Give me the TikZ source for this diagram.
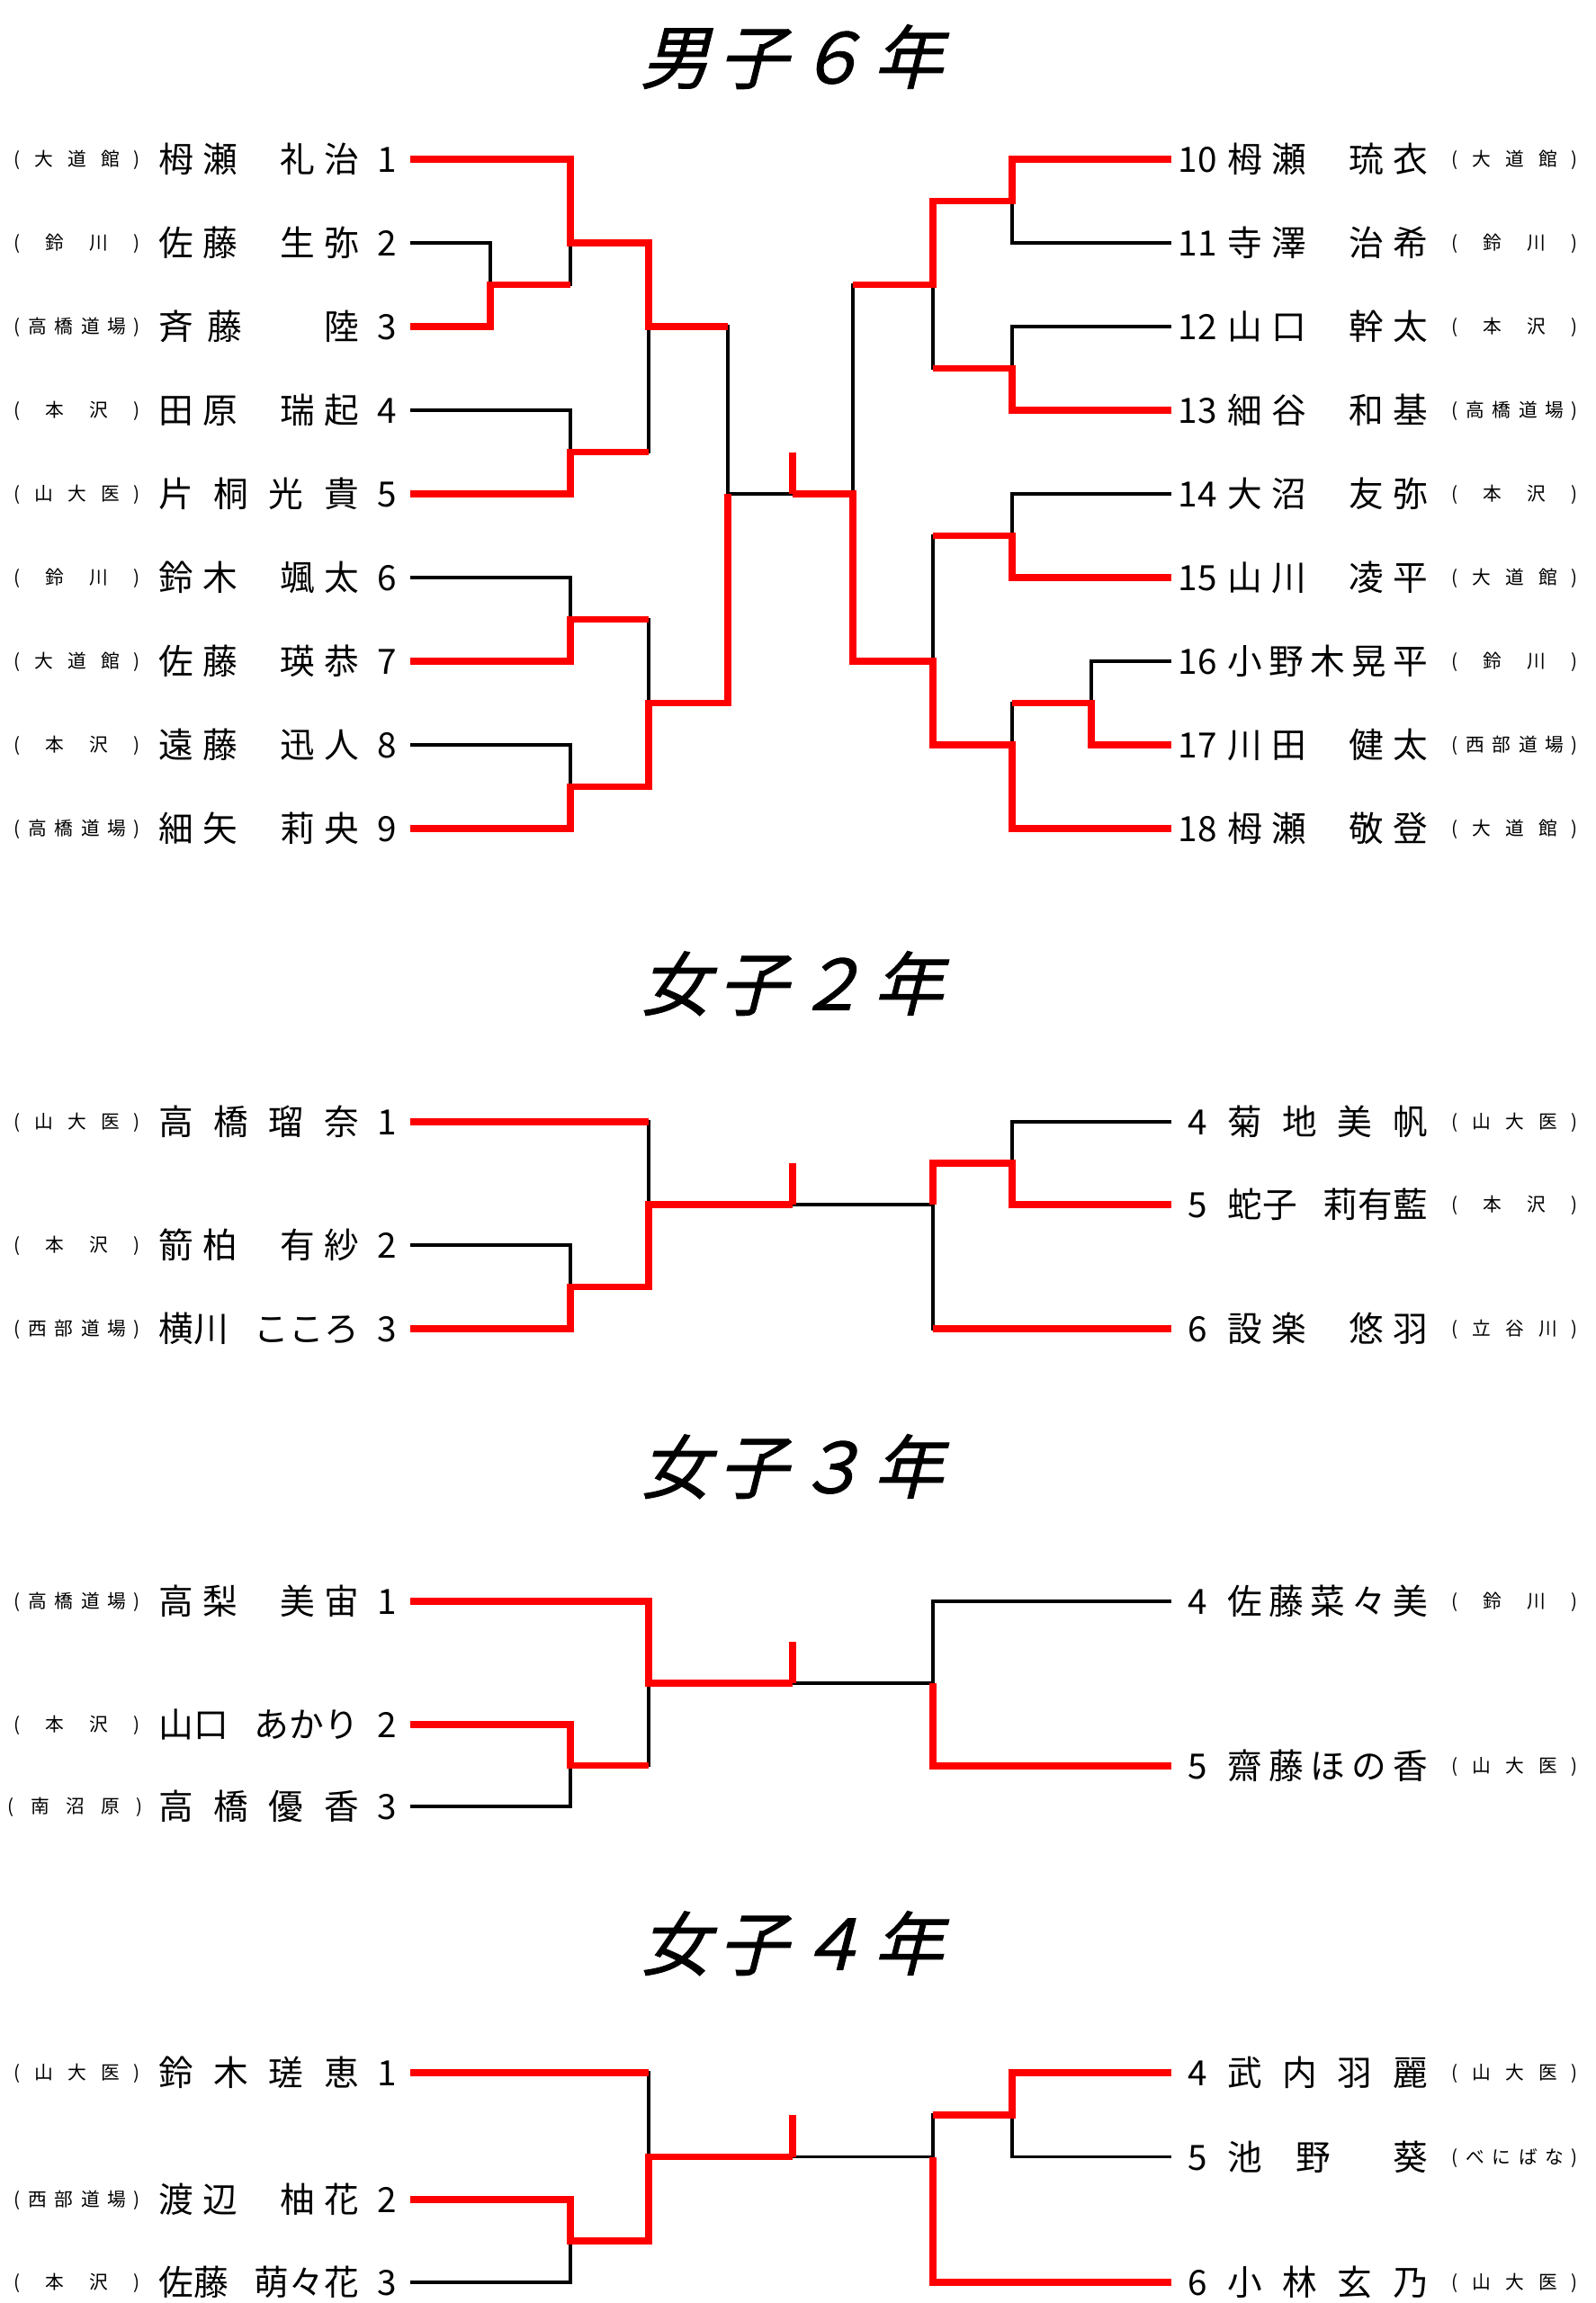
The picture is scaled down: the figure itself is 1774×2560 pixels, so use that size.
\documentclass[tikz,border=0pt]{standalone}
\usepackage{fontspec}
\setmainfont{Noto Sans CJK JP}
\newfontfamily\ttlfont[FakeSlant=0.25,FakeBold=1.2]{Noto Sans CJK JP}
\usepackage{tikz}
\usetikzlibrary{positioning}
\usepackage{xcolor}
\definecolor{wred}{RGB}{255,0,0}
\tikzstyle{win} = [line width=2.1pt,color=wred]
\tikzstyle{lose} = [line width=1pt,color=black]
\tikzstyle{titletxt} = [inner sep=0pt,font=\ttlfont\fontsize{22}{22}\selectfont,text height=19.4pt,text depth=2.6pt]
\tikzstyle{nametxt} = [anchor=west,inner sep=0pt,font=\fontsize{11}{11}\selectfont,text height=9.7pt,text depth=1.3pt]
\tikzstyle{numL} = [anchor=east,inner sep=0pt,font=\fontsize{11}{11}\selectfont,text height=9.7pt,text depth=1.3pt]
\tikzstyle{numR} = [anchor=center,inner sep=0pt,font=\fontsize{11}{11}\selectfont,text height=9.7pt,text depth=1.3pt]
\tikzstyle{clubtxt} = [anchor=west,inner sep=0pt,font=\fontsize{5.9}{6}\selectfont,text height=5.2pt,text depth=0.7pt]
\newcommand{\tgap}{\hspace{0.09cm}}
\newcommand{\pgap}{\hspace{0.1cm}}
\newcommand{\pname}[1]{\makebox[2.22cm][s]{#1}}
\newcommand{\npair}[4]{\pname{#1\pgap #2\hfill #3\pgap #4}}
\newcommand{\neven}[4]{\pname{#1\hfill #2\hfill #3\hfill #4}}
\newcommand{\nfive}[5]{\pname{#1\hfill #2\hfill #3\hfill #4\hfill #5}}
\newcommand{\ctwo}[2]{\makebox[1.4cm][s]{(\hfill #1\hfill #2\hfill )}}
\newcommand{\cthree}[3]{\makebox[1.4cm][s]{(\hfill #1\hfill #2\hfill #3\hfill )}}
\newcommand{\cfour}[4]{\makebox[1.4cm][s]{(\hfill #1\hfill #2\hfill #3\hfill #4\hfill )}}

\begin{document}
\begin{tikzpicture}[x=0.01cm, y=-0.01cm]
    \useasboundingbox (0,0) rectangle (1774,2560);

    % Titles
    \node (t6) [titletxt] at (880,63) {男\tgap 子\tgap ６\tgap 年};
    \node (t2) [titletxt] at (880,1093) {女\tgap 子\tgap ２\tgap 年};
    \node (t3) [titletxt] at (880,1630) {女\tgap 子\tgap ３\tgap 年};
    \node (t4) [titletxt] at (880,2160) {女\tgap 子\tgap ４\tgap 年};

    % Boys 6 - left entries
    \node (r1c) [clubtxt] at (15,177) {\cthree{大}{道}{館}};
    \node (r1n) [nametxt] at (176,177) {\npair{栂}{瀬}{礼}{治}};
    \node (r1k) [numL] at (442,177) {1};
    \node (r2c) [clubtxt] at (15,270) {\ctwo{鈴}{川}};
    \node (r2n) [nametxt] at (176,270) {\npair{佐}{藤}{生}{弥}};
    \node (r2k) [numL] at (442,270) {2};
    \node (r3c) [clubtxt] at (15,363) {\cfour{高}{橋}{道}{場}};
    \node (r3n) [nametxt] at (176,363) {\pname{斉\hspace{0.15cm}藤\hfill 陸}};
    \node (r3k) [numL] at (442,363) {3};
    \node (r4c) [clubtxt] at (15,456) {\ctwo{本}{沢}};
    \node (r4n) [nametxt] at (176,456) {\npair{田}{原}{瑞}{起}};
    \node (r4k) [numL] at (442,456) {4};
    \node (r5c) [clubtxt] at (15,549) {\cthree{山}{大}{医}};
    \node (r5n) [nametxt] at (176,549) {\neven{片}{桐}{光}{貴}};
    \node (r5k) [numL] at (442,549) {5};
    \node (r6c) [clubtxt] at (15,642) {\ctwo{鈴}{川}};
    \node (r6n) [nametxt] at (176,642) {\npair{鈴}{木}{颯}{太}};
    \node (r6k) [numL] at (442,642) {6};
    \node (r7c) [clubtxt] at (15,735) {\cthree{大}{道}{館}};
    \node (r7n) [nametxt] at (176,735) {\npair{佐}{藤}{瑛}{恭}};
    \node (r7k) [numL] at (442,735) {7};
    \node (r8c) [clubtxt] at (15,828) {\ctwo{本}{沢}};
    \node (r8n) [nametxt] at (176,828) {\npair{遠}{藤}{迅}{人}};
    \node (r8k) [numL] at (442,828) {8};
    \node (r9c) [clubtxt] at (15,921) {\cfour{高}{橋}{道}{場}};
    \node (r9n) [nametxt] at (176,921) {\npair{細}{矢}{莉}{央}};
    \node (r9k) [numL] at (442,921) {9};

    % Boys 6 - right entries
    \node (r10k) [numR] at (1331,177) {10};
    \node (r10n) [nametxt] at (1364,177) {\npair{栂}{瀬}{琉}{衣}};
    \node (r10c) [clubtxt] at (1613,177) {\cthree{大}{道}{館}};
    \node (r11k) [numR] at (1331,270) {11};
    \node (r11n) [nametxt] at (1364,270) {\npair{寺}{澤}{治}{希}};
    \node (r11c) [clubtxt] at (1613,270) {\ctwo{鈴}{川}};
    \node (r12k) [numR] at (1331,363) {12};
    \node (r12n) [nametxt] at (1364,363) {\npair{山}{口}{幹}{太}};
    \node (r12c) [clubtxt] at (1613,363) {\ctwo{本}{沢}};
    \node (r13k) [numR] at (1331,456) {13};
    \node (r13n) [nametxt] at (1364,456) {\npair{細}{谷}{和}{基}};
    \node (r13c) [clubtxt] at (1613,456) {\cfour{高}{橋}{道}{場}};
    \node (r14k) [numR] at (1331,549) {14};
    \node (r14n) [nametxt] at (1364,549) {\npair{大}{沼}{友}{弥}};
    \node (r14c) [clubtxt] at (1613,549) {\ctwo{本}{沢}};
    \node (r15k) [numR] at (1331,642) {15};
    \node (r15n) [nametxt] at (1364,642) {\npair{山}{川}{凌}{平}};
    \node (r15c) [clubtxt] at (1613,642) {\cthree{大}{道}{館}};
    \node (r16k) [numR] at (1331,735) {16};
    \node (r16n) [nametxt] at (1364,735) {\nfive{小}{野}{木}{晃}{平}};
    \node (r16c) [clubtxt] at (1613,735) {\ctwo{鈴}{川}};
    \node (r17k) [numR] at (1331,828) {17};
    \node (r17n) [nametxt] at (1364,828) {\npair{川}{田}{健}{太}};
    \node (r17c) [clubtxt] at (1613,828) {\cfour{西}{部}{道}{場}};
    \node (r18k) [numR] at (1331,921) {18};
    \node (r18n) [nametxt] at (1364,921) {\npair{栂}{瀬}{敬}{登}};
    \node (r18c) [clubtxt] at (1613,921) {\cthree{大}{道}{館}};

    % Boys 6 - line ends and match points
    \coordinate (r1) at (456,177);  \coordinate (r2) at (456,270);
    \coordinate (r3) at (456,363);  \coordinate (r4) at (456,456);
    \coordinate (r5) at (456,549);  \coordinate (r6) at (456,642);
    \coordinate (r7) at (456,735);  \coordinate (r8) at (456,828);
    \coordinate (r9) at (456,921);
    \coordinate (r10) at (1302,177); \coordinate (r11) at (1302,270);
    \coordinate (r12) at (1302,363); \coordinate (r13) at (1302,456);
    \coordinate (r14) at (1302,549); \coordinate (r15) at (1302,642);
    \coordinate (r16) at (1302,735); \coordinate (r17) at (1302,828);
    \coordinate (r18) at (1302,921);
    \coordinate (mL23) at (545,316.5); \coordinate (mL1) at (634,270);
    \coordinate (mL45) at (634,502.5); \coordinate (mL67) at (634,688.5);
    \coordinate (mL89) at (634,874.5); \coordinate (mLa) at (721,363);
    \coordinate (mLb) at (721,781.5);  \coordinate (mLc) at (809,549);
    \coordinate (mR10) at (1125,223.5); \coordinate (mR12) at (1125,409.5);
    \coordinate (mR14) at (1125,595.5); \coordinate (mR16) at (1213,781.5);
    \coordinate (mR18) at (1125,828);   \coordinate (mRa) at (1037,316.5);
    \coordinate (mRb) at (1037,735);    \coordinate (mRc) at (948,549);
    \coordinate (ctr6) at (881,549);    \coordinate (tk6) at (881,503);

    % Boys 6 - lost lines
    \draw[lose] (r2) -| (mL23);
    \draw[lose] (mL23) -| (mL1);
    \draw[lose] (r4) -| (mL45);
    \draw[lose] (r6) -| (mL67);
    \draw[lose] (r8) -| (mL89);
    \draw[lose] (mL45) -| (mLa);
    \draw[lose] (mL67) -| (mLb);
    \draw[lose] (mLa) -| (mLc) -- (ctr6);
    \draw[lose] (r11) -| (mR10);
    \draw[lose] (r12) -| (mR12) -| (mRa);
    \draw[lose] (r14) -| (mR14) -| (mRb);
    \draw[lose] (r16) -| (mR16) -| (mR18);
    \draw[lose] (mRa) -| (mRc);

    % Boys 6 - won lines
    \draw[win] (r1) -| (mL1) -| (mLa) -- (mLa -| mLc);
    \draw[win] (r3) -| (mL23) -- (mL23 -| mL1);
    \draw[win] (r5) -| (mL45) -- (mL45 -| mLa);
    \draw[win] (r7) -| (mL67) -- (mL67 -| mLb);
    \draw[win] (r9) -| (mL89) -| (mLb) -| (mLc);
    \draw[win] (r10) -| (mR10) -| (mRa) -- (mRa -| mRc);
    \draw[win] (r13) -| (mR12) -- (mR12 -| mRa);
    \draw[win] (r15) -| (mR14) -- (mR14 -| mRb);
    \draw[win] (r17) -| (mR16) -- (mR16 -| mR18);
    \draw[win] (r18) -| (mR18) -| (mRb) -| (mRc) -- (ctr6);
    \draw[win] (tk6) -- (ctr6);

    % Girls 2 - entries
    \node (s1c) [clubtxt] at (15,1247) {\cthree{山}{大}{医}};
    \node (s1n) [nametxt] at (176,1247) {\neven{高}{橋}{瑠}{奈}};
    \node (s1k) [numL] at (442,1247) {1};
    \node (s2c) [clubtxt] at (15,1384) {\ctwo{本}{沢}};
    \node (s2n) [nametxt] at (176,1384) {\npair{箭}{柏}{有}{紗}};
    \node (s2k) [numL] at (442,1384) {2};
    \node (s3c) [clubtxt] at (15,1477) {\cfour{西}{部}{道}{場}};
    \node (s3n) [nametxt] at (176,1477) {\pname{横川\hfill こころ}};
    \node (s3k) [numL] at (442,1477) {3};
    \node (s4k) [numR] at (1331,1247) {4};
    \node (s4n) [nametxt] at (1364,1247) {\neven{菊}{地}{美}{帆}};
    \node (s4c) [clubtxt] at (1613,1247) {\cthree{山}{大}{医}};
    \node (s5k) [numR] at (1331,1339) {5};
    \node (s5n) [nametxt] at (1364,1339) {\pname{蛇子\hfill 莉有藍}};
    \node (s5c) [clubtxt] at (1613,1339) {\ctwo{本}{沢}};
    \node (s6k) [numR] at (1331,1477) {6};
    \node (s6n) [nametxt] at (1364,1477) {\npair{設}{楽}{悠}{羽}};
    \node (s6c) [clubtxt] at (1613,1477) {\cthree{立}{谷}{川}};

    % Girls 2 - lines
    \coordinate (s1) at (456,1247);  \coordinate (s2) at (456,1384);
    \coordinate (s3) at (456,1477);  \coordinate (s4) at (1302,1247);
    \coordinate (s5) at (1302,1339); \coordinate (s6) at (1302,1477);
    \coordinate (g2m23) at (634,1430.5); \coordinate (g2mL) at (721,1339);
    \coordinate (g2m45) at (1125,1293);  \coordinate (g2mR) at (1037,1339);
    \coordinate (ctr2) at (881,1339);    \coordinate (tk2) at (881,1293);
    \draw[lose] (s1) -| (g2mL);
    \draw[lose] (s2) -| (g2m23);
    \draw[lose] (s4) -| (g2m45);
    \draw[lose] (s6) -| (g2mR) -- (ctr2);
    \draw[win] (s1) -- (s1 -| g2mL);
    \draw[win] (s3) -| (g2m23) -| (g2mL) -- (ctr2);
    \draw[win] (tk2) -- (ctr2);
    \draw[win] (s5) -| (g2m45) -| (g2mR);
    \draw[win] (s6) -- (s6 -| g2mR);

    % Girls 3 - entries
    \node (u1c) [clubtxt] at (15,1780) {\cfour{高}{橋}{道}{場}};
    \node (u1n) [nametxt] at (176,1780) {\npair{高}{梨}{美}{宙}};
    \node (u1k) [numL] at (442,1780) {1};
    \node (u2c) [clubtxt] at (15,1917) {\ctwo{本}{沢}};
    \node (u2n) [nametxt] at (176,1917) {\pname{山口\hfill あかり}};
    \node (u2k) [numL] at (442,1917) {2};
    \node (u3c) [clubtxt] at (8,2008) {\makebox[1.5cm][s]{(\hfill 南\hfill 沼\hfill 原\hfill )}};
    \node (u3n) [nametxt] at (176,2008) {\neven{高}{橋}{優}{香}};
    \node (u3k) [numL] at (442,2008) {3};
    \node (u4k) [numR] at (1331,1780) {4};
    \node (u4n) [nametxt] at (1364,1780) {\nfive{佐}{藤}{菜}{々}{美}};
    \node (u4c) [clubtxt] at (1613,1780) {\ctwo{鈴}{川}};
    \node (u5k) [numR] at (1331,1963) {5};
    \node (u5n) [nametxt] at (1364,1963) {\nfive{齋}{藤}{ほ}{の}{香}};
    \node (u5c) [clubtxt] at (1613,1963) {\cthree{山}{大}{医}};

    % Girls 3 - lines
    \coordinate (u1) at (456,1780);  \coordinate (u2) at (456,1917);
    \coordinate (u3) at (456,2008);  \coordinate (u4) at (1302,1780);
    \coordinate (u5) at (1302,1963);
    \coordinate (g3m23) at (634,1962.5); \coordinate (g3mL) at (721,1871);
    \coordinate (g3mR) at (1037,1871);
    \coordinate (ctr3) at (881,1871);    \coordinate (tk3) at (881,1825);
    \draw[lose] (u3) -| (g3m23) -| (g3mL);
    \draw[lose] (u4) -| (g3mR) -- (ctr3);
    \draw[win] (u1) -| (g3mL) -- (ctr3);
    \draw[win] (u2) -| (g3m23) -- (g3m23 -| g3mL);
    \draw[win] (tk3) -- (ctr3);
    \draw[win] (u5) -| (g3mR);

    % Girls 4 - entries
    \node (v1c) [clubtxt] at (15,2304) {\cthree{山}{大}{医}};
    \node (v1n) [nametxt] at (176,2304) {\neven{鈴}{木}{瑳}{恵}};
    \node (v1k) [numL] at (442,2304) {1};
    \node (v2c) [clubtxt] at (15,2445) {\cfour{西}{部}{道}{場}};
    \node (v2n) [nametxt] at (176,2445) {\npair{渡}{辺}{柚}{花}};
    \node (v2k) [numL] at (442,2445) {2};
    \node (v3c) [clubtxt] at (15,2537) {\ctwo{本}{沢}};
    \node (v3n) [nametxt] at (176,2537) {\pname{佐藤\hfill 萌々花}};
    \node (v3k) [numL] at (442,2537) {3};
    \node (v4k) [numR] at (1331,2304) {4};
    \node (v4n) [nametxt] at (1364,2304) {\neven{武}{内}{羽}{麗}};
    \node (v4c) [clubtxt] at (1613,2304) {\cthree{山}{大}{医}};
    \node (v5k) [numR] at (1331,2397.5) {5};
    \node (v5n) [nametxt] at (1364,2397.5) {\pname{池\hspace{0.37cm}野\hfill 葵}};
    \node (v5c) [clubtxt] at (1613,2397.5) {\cfour{べ}{に}{ば}{な}};
    \node (v6k) [numR] at (1331,2537) {6};
    \node (v6n) [nametxt] at (1364,2537) {\neven{小}{林}{玄}{乃}};
    \node (v6c) [clubtxt] at (1613,2537) {\cthree{山}{大}{医}};

    % Girls 4 - lines
    \coordinate (v1) at (456,2304);  \coordinate (v2) at (456,2445);
    \coordinate (v3) at (456,2537);  \coordinate (v4) at (1302,2304);
    \coordinate (v5) at (1302,2397.5); \coordinate (v6) at (1302,2537);
    \coordinate (g4m23) at (634,2491);   \coordinate (g4mL) at (721,2397.5);
    \coordinate (g4m45) at (1125,2351);  \coordinate (g4mR) at (1037,2397.5);
    \coordinate (ctr4) at (881,2397.5);  \coordinate (tk4) at (881,2351);
    \draw[lose] (v1) -| (g4mL);
    \draw[lose] (v3) -| (g4m23);
    \draw[lose] (v5) -| (g4m45) -| (g4mR) -- (ctr4);
    \draw[win] (v1) -- (v1 -| g4mL);
    \draw[win] (v2) -| (g4m23) -| (g4mL) -- (ctr4);
    \draw[win] (tk4) -- (ctr4);
    \draw[win] (v4) -| (g4m45) -- (g4m45 -| g4mR);
    \draw[win] (v6) -| (g4mR);
\end{tikzpicture}
\end{document}
